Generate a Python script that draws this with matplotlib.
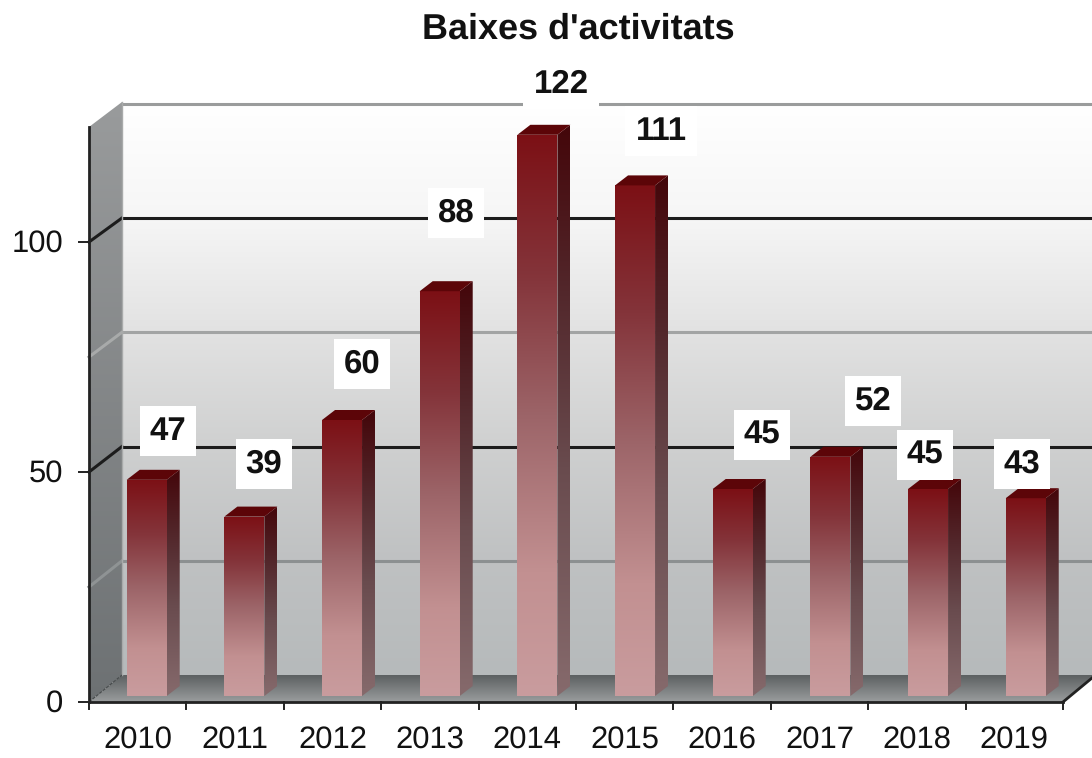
import numpy as np
import matplotlib
matplotlib.use("Agg")
import matplotlib.pyplot as plt
from matplotlib.colors import LinearSegmentedColormap
from matplotlib.patches import Polygon
from matplotlib.transforms import Affine2D

# ---- data ----
years = ["2010", "2011", "2012", "2013", "2014", "2015", "2016", "2017", "2018", "2019"]
values = [47, 39, 60, 88, 122, 111, 45, 52, 45, 43]
y_ticks = [0, 50, 100]
title = "Baixes d'activitats"

# ---- layout (pixels) ----
W, H = 1092, 758
FX0, FX1, FY0 = 89, 1063, 702      # front axis
BX0, BY0 = 122, 675                # back wall origin
STEP = (FX1 - FX0) / 10
BAR_STEP = 97.67
PX_PER_UNIT = 4.6
BAR0_X, BAR_Y0 = 146.7, 696
BAR_W, DEPTH_X, DEPTH_Y = 40, 13, 10
LABEL_PX = [(168, 431), (264, 464), (362, 364), (456, 213), (561, 84),
            (661, 131), (762, 435), (873, 401), (925, 455), (1022, 464)]

plt.rcParams["font.family"] = ["Liberation Sans", "DejaVu Sans"]
plt.rcParams["text.hinting"] = "no_hinting"
plt.rcParams["text.hinting_factor"] = 1
fig = plt.figure(figsize=(W / 100, H / 100), dpi=100, facecolor="white")
ax = fig.add_axes([0, 0, 1, 1])
ax.axis("off")
xlim = (-BAR0_X / BAR_STEP, (W - BAR0_X) / BAR_STEP)
ylim = ((BAR_Y0 - H) / PX_PER_UNIT, BAR_Y0 / PX_PER_UNIT)
px = Affine2D().scale(1, -1).translate(0, H)   # pixel frame, origin top-left


def grad(stops, extent, verts, transform, zorder):
    cmap = LinearSegmentedColormap.from_list("g", stops)
    arr = np.linspace(0, 1, 256).reshape(-1, 1)
    im = ax.imshow(arr, cmap=cmap, vmin=0, vmax=1, extent=extent, origin="upper",
                   aspect="auto", interpolation="bilinear", zorder=zorder)
    im.set_transform(transform)
    poly = Polygon(verts, closed=True, transform=transform, fc="none", ec="none")
    ax.add_patch(poly)
    im.set_clip_path(poly)
    return im


# back wall
grad([(0, "#ffffff"), (0.2, "#f6f6f6"), (0.4, "#e2e2e2"), (0.6, "#cfd0d0"),
      (0.8, "#bfc1c2"), (1, "#b6babb")],
     (BX0, W, BY0, 102), [(BX0, 102), (W, 102), (W, BY0), (BX0, BY0)], px, 1)
# left wall
grad([(0, "#999b9c"), (1, "#6d7173")],
     (FX0, BX0, FY0, 102), [(FX0, 127), (BX0, 102), (BX0, BY0), (FX0, FY0)], px, 1)
# floor
grad([(0, "#5c6061"), (1, "#9a9d9e")],
     (FX0, W, FY0, BY0), [(FX0, FY0), (FX1, FY0), (W, 678), (W, BY0), (BX0, BY0)], px, 1)

# gridlines
for level, col, lw, side in [(25, "#8c9091", 2.2, "#8f9394"), (50, "#1c1c1c", 2.2, "#1c1c1c"),
                             (75, "#a2a4a4", 2.2, "#a8aaaa"), (100, "#1c1c1c", 2.2, "#1c1c1c"),
                             (125, "#9a9c9c", 2.2, None)]:
    yb = BY0 - level * 4.57
    yf = FY0 - level * 4.6
    ax.plot([BX0, W], [yb, yb], color=col, lw=lw, transform=px, zorder=2, solid_capstyle="butt")
    if side:
        ax.plot([FX0, BX0], [yf, yb], color=side, lw=lw, transform=px, zorder=2)
ax.plot([BX0, BX0], [102, BY0], color="#a8aaaa", lw=1.0, transform=px, zorder=2)
ax.plot([FX0, BX0], [FY0, BY0], color="#45494a", lw=0.8, ls=(0, (3, 1)), transform=px, zorder=2)

# axis lines and ticks
ax.plot([FX0, FX0], [127, FY0], color="#222222", lw=2.0, transform=px, zorder=3)
ax.plot([FX0, FX1], [FY0, FY0], color="#222222", lw=2.0, transform=px, zorder=3)
ax.plot([FX1, W], [FY0, 678], color="#222222", lw=2.0, transform=px, zorder=3)
for i in range(len(years) + 1):
    xt = FX0 + i * STEP
    ax.plot([xt, xt], [FY0, 709], color="#222222", lw=1.4, transform=px, zorder=3)
for t in y_ticks:
    yt = FY0 - t * 4.6
    ax.plot([79, FX0], [yt, yt], color="#222222", lw=1.4, transform=px, zorder=3)
    ax.text(63, yt + 2, str(t), ha="right", va="center", fontsize=22.5, color="#111111", transform=px)
for i, y in enumerate(years):
    ax.text(FX0 + (i + 0.5) * STEP, 740, y, ha="center", va="center", fontsize=22.5,
            color="#111111", transform=px)

# bars
dx = DEPTH_X / BAR_STEP
dy = DEPTH_Y / PX_PER_UNIT
bw = BAR_W / BAR_STEP
x = np.arange(len(years))
front_stops = [(0, "#7c1015"), (0.25, "#84343a"), (0.5, "#9c6468"), (0.78, "#c29091"), (1, "#c99c9e")]
side_stops = [(0, "#44060a"), (0.3, "#53282c"), (0.6, "#694b4e"), (1, "#866a6c")]
bars = ax.bar(x, values, width=bw, color="none", edgecolor="none", zorder=5)
for b, xi, v in zip(bars, x, values):
    l, r = xi - bw / 2, xi + bw / 2
    grad(front_stops, (l, r, 0, v), [(l, 0), (r, 0), (r, v), (l, v)], ax.transData, 5)
    grad(side_stops, (r, r + dx, 0, v + dy),
         [(r, 0), (r + dx, dy), (r + dx, v + dy), (r, v)], ax.transData, 5)
    ax.add_patch(Polygon([(l, v), (r, v), (r + dx, v + dy), (l + dx, v + dy)],
                         closed=True, fc="#5c0508", ec="none", zorder=5))

# value labels
for v, (lx, ly) in zip(values, LABEL_PX):
    ax.text(lx, ly, str(v), ha="center", va="center", fontsize=24, fontweight="bold",
            color="#111111", transform=px, zorder=6,
            bbox=dict(fc="white", ec="none", boxstyle="square,pad=0.3"))

ax.text(578, 29, title, ha="center", va="center", fontsize=25.8, fontweight="bold",
        color="#111111", transform=px, zorder=6)

ax.set_xlim(*xlim)
ax.set_ylim(*ylim)
fig.savefig("out.png", dpi=100, facecolor="white")
